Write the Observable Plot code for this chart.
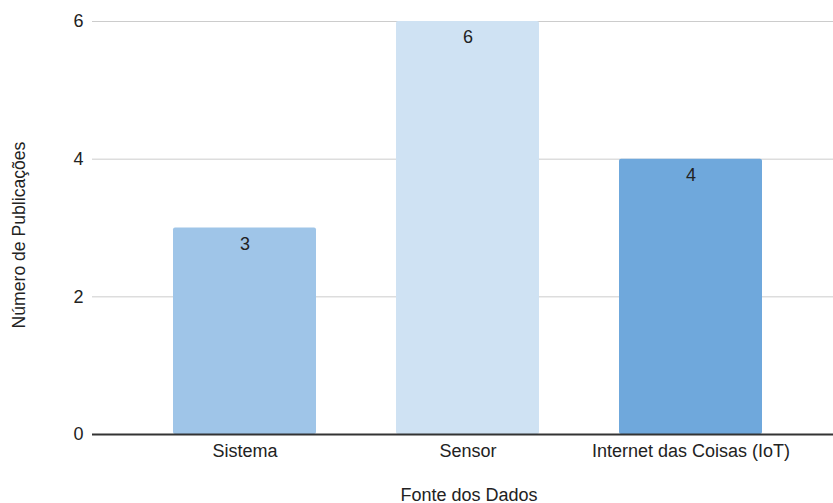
<!DOCTYPE html>
<html>
<head>
<meta charset="utf-8">
<script src="https://cdn.jsdelivr.net/npm/d3@7"></script>
<script src="https://cdn.jsdelivr.net/npm/@observablehq/plot@0.6"></script>
<style>
  html, body { margin: 0; padding: 0; background: #fff; }
  #chart svg { display: block; }
</style>
</head>
<body>
<div id="chart"></div>
<script>
// Publicações por fonte dos dados
const categories = ["Sistema", "Sensor", "Internet das Coisas (IoT)"];
const counts = [3, 6, 4];
const colors = ["#9fc5e8", "#cfe2f3", "#6fa8dc"];
const yTicks = [0, 2, 4, 6];
const xTitle = "Fonte dos Dados";
const yTitle = "Número de Publicações";

const data = categories.map((c, i) => ({fonte: c, n: counts[i], cor: colors[i]}));

const font = "'Liberation Sans', Arial, sans-serif";

const chart = Plot.plot({
  width: 833,
  height: 503,
  marginLeft: 92,
  marginRight: 0,
  marginTop: 21,
  marginBottom: 69,
  style: {fontFamily: font, fontSize: "18px", color: "#222", background: "#fff"},
  x: {domain: categories, range: [132, 804], paddingInner: 0.357, paddingOuter: 0.179},
  y: {domain: [0, 6]},
  marks: [
    Plot.ruleY(yTicks.filter(d => d > 0), {stroke: "#cccccc", strokeWidth: 1}),
    Plot.barY(data, {x: "fonte", y: "n", fill: "cor", rx: 2}),
    Plot.ruleY([0], {stroke: "#333333", strokeWidth: 2}),
    Plot.text(data, {x: "fonte", y: "n", text: d => String(d.n), dy: 16, fill: "#222", fontSize: 18}),
    Plot.axisY({ticks: yTicks, tickSize: 0, tickPadding: 9, label: null, fontSize: 18, tickFormat: d => String(d)}),
    Plot.axisX({tickSize: 0, tickPadding: 10, label: null, fontSize: 18}),
    // eixo Y: título rotacionado
    Plot.text([yTitle], {frameAnchor: "left", textAnchor: "middle", rotate: -90, dx: -73, dy: 7, fontSize: 17.6, fill: "#222"}),
    // eixo X: título
    Plot.text([xTitle], {frameAnchor: "bottom", dx: 6, dy: 66, lineAnchor: "bottom", fontSize: 18, fill: "#222"})
  ]
});

document.getElementById("chart").appendChild(chart);
</script>
</body>
</html>
